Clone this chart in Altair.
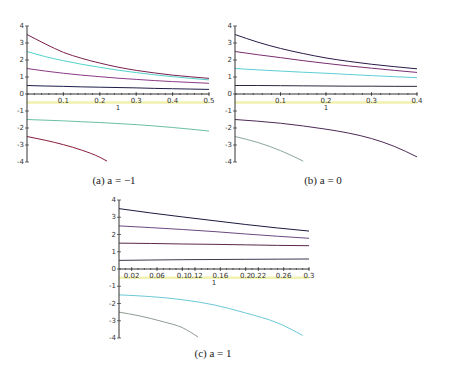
import altair as alt
import pandas as pd

# ---------------- data ----------------
# panel (a)  a = -1
A_X = [0, 0.05, 0.1, 0.15, 0.2, 0.25, 0.3, 0.35, 0.4, 0.45, 0.5]
A1 = [3.5, 2.95, 2.45, 2.1, 1.82, 1.58, 1.39, 1.24, 1.11, 1.01, 0.92]
A2 = [2.5, 2.2, 1.96, 1.75, 1.57, 1.4, 1.26, 1.13, 1.02, 0.92, 0.83]
A3 = [1.5, 1.35, 1.22, 1.11, 1.02, 0.93, 0.86, 0.79, 0.73, 0.68, 0.63]
A4 = [0.5, 0.47, 0.45, 0.42, 0.4, 0.38, 0.36, 0.33, 0.31, 0.29, 0.27]
A5_X = [0, 0.5]
A5 = [-0.5, -0.5]
A6 = [-1.5, -1.54, -1.58, -1.63, -1.68, -1.74, -1.8, -1.88, -1.97, -2.07, -2.18]
A7_X = [0, 0.05, 0.1, 0.15, 0.2, 0.22]
A7 = [-2.5, -2.72, -2.98, -3.3, -3.72, -3.95]

# panel (b)  a = 0
B_X = [0, 0.05, 0.1, 0.15, 0.2, 0.25, 0.3, 0.35, 0.4]
B1 = [3.5, 3.05, 2.68, 2.38, 2.12, 1.92, 1.75, 1.61, 1.48]
B2 = [2.5, 2.31, 2.14, 1.96, 1.8, 1.65, 1.52, 1.39, 1.27]
B3 = [1.5, 1.42, 1.35, 1.28, 1.22, 1.15, 1.08, 1.02, 0.96]
B4 = [0.5, 0.5, 0.49, 0.48, 0.47, 0.46, 0.46, 0.45, 0.45]
B5_X = [0, 0.4]
B5 = [-0.5, -0.5]
B6 = [-1.5, -1.6, -1.72, -1.88, -2.07, -2.3, -2.62, -3.08, -3.7]
B7_X = [0, 0.05, 0.1, 0.15]
B7 = [-2.5, -2.85, -3.33, -3.95]

# panel (c)  a = 1
C_X = [0, 0.05, 0.1, 0.15, 0.2, 0.25, 0.3]
C1 = [3.5, 3.25, 3.02, 2.8, 2.58, 2.38, 2.2]
C2 = [2.5, 2.4, 2.29, 2.17, 2.03, 1.9, 1.78]
C3 = [1.5, 1.48, 1.45, 1.43, 1.4, 1.37, 1.35]
C4 = [0.5, 0.52, 0.54, 0.55, 0.56, 0.57, 0.58]
C5_X = [0, 0.3]
C5 = [-0.5, -0.5]
C6_X = [0, 0.05, 0.1, 0.15, 0.2, 0.25, 0.29]
C6 = [-1.5, -1.6, -1.78, -2.08, -2.55, -3.12, -3.85]
C7_X = [0, 0.03, 0.07, 0.1, 0.125]
C7 = [-2.5, -2.7, -3.06, -3.4, -3.95]

# tick labels
Y_TICKS = [-4, -3, -2, -1, 0, 1, 2, 3, 4]
A_TICKS = [0.1, 0.2, 0.3, 0.4, 0.5]
B_TICKS = [0.1, 0.2, 0.3, 0.4]
C_TICKS = [0.02, 0.06, 0.1, 0.12, 0.16, 0.2, 0.22, 0.26, 0.3]
C_LABELS = ["0.02", "0.06", "0.1", "0.12", "0.16", "0.2", "0.22", "0.26", "0.3"]

CAPTIONS = ["(a) a = \u22121", "(b) a = 0", "(c) a = 1"]
AXIS_TITLE = "1"

YELLOW = "#e6e670"
A_COLORS = ["#7a1f4e", "#52d2cc", "#8a3a86", "#1c1c48", "#6cbfa8", "#8a1c3a"]
B_COLORS = ["#2a1a48", "#7a2e70", "#5ccfd6", "#2a2a40", "#4c2a56", "#8aa898"]
C_COLORS = ["#1a1a40", "#6a4a80", "#5a2848", "#3a3a50", "#6cc8d8", "#909c92"]

FONT = "DejaVu Sans"


def curves_df(parts):
    rows = []
    for i, (xs, ys, col) in enumerate(parts):
        for x, y in zip(xs, ys):
            rows.append({"x": x, "y": y, "s": i, "c": col})
    return pd.DataFrame(rows)


def panel(parts, yellow, xmax, xr, yr, ticks, labels, minor_step):
    X = alt.X("x:Q", scale=alt.Scale(domain=[0, xmax], range=xr, nice=False, zero=False), axis=None)
    Y = alt.Y("y:Q", scale=alt.Scale(domain=[-4, 4], range=yr, nice=False, zero=False), axis=None)

    lines = alt.Chart(curves_df(parts)).mark_line(strokeWidth=1, interpolate="monotone").encode(
        x=X, y=Y, detail="s:N", color=alt.Color("c:N", scale=None)
    )
    ylw = alt.Chart(pd.DataFrame({"x": yellow[0], "y": yellow[1]})).mark_line(
        strokeWidth=2.5, color=YELLOW, opacity=0.55
    ).encode(x=X, y=Y)

    axis_col = "#333333"
    yaxis = alt.Chart(pd.DataFrame({"x": [0], "y": [-4], "y2": [4]})).mark_rule(
        color=axis_col, strokeWidth=1
    ).encode(x=X, y=Y, y2="y2:Q")
    xaxis = alt.Chart(pd.DataFrame({"x": [0], "x2": [xmax], "y": [0]})).mark_rule(
        color=axis_col, strokeWidth=1
    ).encode(x=X, x2="x2:Q", y=Y)

    yt = alt.Chart(pd.DataFrame({"x": [0] * len(Y_TICKS), "y": Y_TICKS})).mark_tick(
        orient="horizontal", size=4, thickness=1, color=axis_col
    ).encode(x=X, y=Y)
    ylab = alt.Chart(pd.DataFrame({"x": [0] * len(Y_TICKS), "y": Y_TICKS,
                                   "t": [str(v) for v in Y_TICKS]})).mark_text(
        align="right", baseline="middle", dx=-3, fontSize=7, font=FONT, color="#333333"
    ).encode(x=X, y=Y, text="t:N")

    nmin = int(round(xmax / minor_step))
    minor = [round(k * minor_step, 4) for k in range(1, nmin + 1)]
    xmt = alt.Chart(pd.DataFrame({"x": minor, "y": [0] * len(minor)})).mark_tick(
        orient="vertical", size=2, thickness=1, color=axis_col
    ).encode(x=X, y=Y)
    xt = alt.Chart(pd.DataFrame({"x": ticks, "y": [0] * len(ticks)})).mark_tick(
        orient="vertical", size=4, thickness=1, color=axis_col
    ).encode(x=X, y=Y)
    xlab = alt.Chart(pd.DataFrame({"x": ticks, "y": [0] * len(ticks), "t": labels})).mark_text(
        align="center", baseline="top", dy=3, fontSize=7, font=FONT, color="#333333"
    ).encode(x=X, y=Y, text="t:N")
    xtitle = alt.Chart(pd.DataFrame({"x": [xmax / 2], "y": [0], "t": [AXIS_TITLE]})).mark_text(
        align="center", baseline="top", dy=10, fontSize=7, font=FONT, color="#333333"
    ).encode(x=X, y=Y, text="t:N")

    return alt.layer(ylw, lines, yaxis, xaxis, yt, ylab, xmt, xt, xlab, xtitle)


pa = panel(
    [(A_X, A1, A_COLORS[0]), (A_X, A2, A_COLORS[1]), (A_X, A3, A_COLORS[2]),
     (A_X, A4, A_COLORS[3]), (A_X, A6, A_COLORS[4]), (A7_X, A7, A_COLORS[5])],
    (A5_X, A5), 0.5, [27, 209], [162, 26], A_TICKS, [str(v) for v in A_TICKS], 0.02,
)
pb = panel(
    [(B_X, B1, B_COLORS[0]), (B_X, B2, B_COLORS[1]), (B_X, B3, B_COLORS[2]),
     (B_X, B4, B_COLORS[3]), (B_X, B6, B_COLORS[4]), (B7_X, B7, B_COLORS[5])],
    (B5_X, B5), 0.4, [235, 417], [162, 26], B_TICKS, [str(v) for v in B_TICKS], 0.02,
)
pc = panel(
    [(C_X, C1, C_COLORS[0]), (C_X, C2, C_COLORS[1]), (C_X, C3, C_COLORS[2]),
     (C_X, C4, C_COLORS[3]), (C6_X, C6, C_COLORS[4]), (C7_X, C7, C_COLORS[5])],
    (C5_X, C5), 0.3, [119, 309], [338, 200], C_TICKS, C_LABELS, 0.01,
)


def caption(text, px, py):
    return alt.Chart(pd.DataFrame({"t": [text]})).mark_text(
        align="center", baseline="middle", fontSize=11, font="Liberation Serif", color="#222222"
    ).encode(x=alt.value(px), y=alt.value(py), text="t:N")


caps = [caption(CAPTIONS[0], 114, 181), caption(CAPTIONS[1], 323, 181), caption(CAPTIONS[2], 213, 354)]

chart = alt.layer(pa, pb, pc, *caps).resolve_scale(x="independent", y="independent").properties(
    width=452, height=376, autosize=alt.AutoSizeParams(type="none"), padding=0, background="white"
).configure_view(stroke=None)

chart.save("out.html", embed_options={"renderer": "svg", "actions": False})
